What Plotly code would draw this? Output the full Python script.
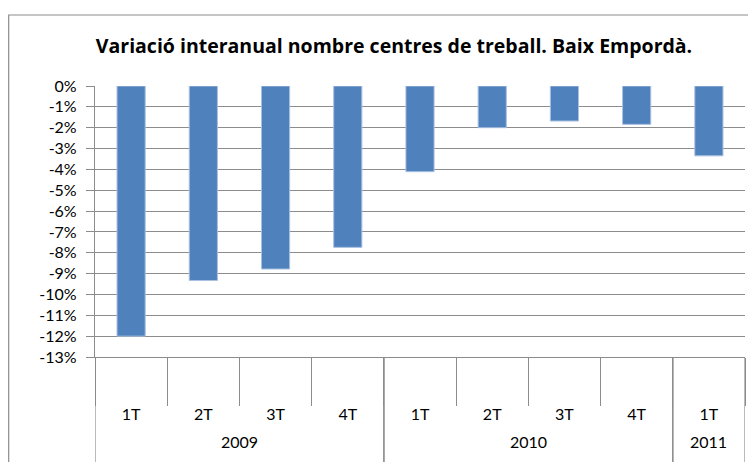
import plotly.graph_objects as go

years = ["2009", "2009", "2009", "2009", "2010", "2010", "2010", "2010", "2011"]
quarters = ["1T", "2T", "3T", "4T", "1T", "2T", "3T", "4T", "1T"]
values = [-12.0, -9.33, -8.78, -7.74, -4.11, -2.0, -1.68, -1.84, -3.35]
yticks = list(range(0, -14, -1))
yticklabels = [f"{v}%" for v in yticks]

title = "Variació interanual nombre centres de treball. Baix Empordà."
font = "Lato"
grid = "#8c8c8c"

pos = list(range(len(values)))
bounds = [p - 0.5 for p in pos] + [pos[-1] + 0.5]

# year groups from the years list
groups = []
for i, y in enumerate(years):
    if groups and groups[-1][0] == y:
        groups[-1][2] = i
    else:
        groups.append([y, i, i])

fig = go.Figure()
fig.add_trace(go.Bar(
    x=pos, y=values,
    marker=dict(color="#4f81bd", line=dict(color="#a9c0e0", width=1)),
    width=0.39,
))

# page body has an 8px offset
OFF = 8
W, H = 756, 462
L, T = 95 - OFF, 86 - OFF
pw, ph = 650, 271
R = W - L - pw
B = H - T - ph

shapes = [dict(type="rect", xref="paper", yref="paper",
               x0=-(L - 0.7) / pw, x1=1 + 60 / pw, y0=-1, y1=1 + (T - (15 - OFF)) / ph,
               line=dict(color="#8c8c8c", width=1.2), fillcolor="rgba(0,0,0,0)", layer="below")]
annotations = []
for name, a, b in groups:
    annotations.append(dict(x=(a + b) / 2, xref="x", y=-(441 - 357) / ph, yref="paper",
                            text=name, showarrow=False, yanchor="middle",
                            font=dict(family=font, size=16, color="black")))
    for xb in (a - 0.5, b + 0.5):
        shapes.append(dict(type="line", xref="x", yref="paper", x0=xb, x1=xb,
                           y0=0, y1=-(H - T - ph + 20) / ph,
                           line=dict(color=grid, width=1.2)))

fig.update_layout(
    width=W, height=H,
    margin=dict(l=L, r=R, t=T, b=B),
    paper_bgcolor="white", plot_bgcolor="white",
    showlegend=False,
    font=dict(family=font, size=16, color="#000000"),
    title=dict(text="<b>" + title + "</b>", x=(394 - OFF) / W, xanchor="center", xref="container",
               y=1 - (46 - OFF) / H, yanchor="middle",
               font=dict(family="Open Sans", size=19.5, color="black")),
    shapes=shapes,
    annotations=annotations,
    xaxis2=dict(overlaying="x", side="top", range=[bounds[0], bounds[-1]],
                tickmode="array", tickvals=bounds, ticktext=["" for _ in bounds],
                ticks="outside", ticklen=5, tickcolor=grid, showgrid=False,
                showline=False, zeroline=False, automargin=False, fixedrange=True),
)
fig.update_yaxes(range=[-13, 0], tickvals=yticks, ticktext=yticklabels,
                 showgrid=True, gridcolor=grid, gridwidth=1.2,
                 zeroline=False, showline=True, linecolor=grid, linewidth=1.2,
                 ticks="outside", ticklen=8, tickcolor=grid, tickfont=dict(size=16),
                 ticklabelstandoff=6, automargin=False, fixedrange=True)
fig.layout.xaxis.update(range=[bounds[0], bounds[-1]], tickmode="array", tickvals=pos, ticktext=quarters,
                        ticks="", showline=True, linecolor=grid, linewidth=1.2,
                        ticklabelstandoff=(412 - 357) - 12, automargin=False, showgrid=False,
                        zeroline=False, fixedrange=True, tickfont=dict(size=16),
                        minor=dict(tickmode="array", tickvals=bounds, ticks="outside",
                                   ticklen=48, tickcolor=grid, showgrid=False))
fig.write_html("out.html")
